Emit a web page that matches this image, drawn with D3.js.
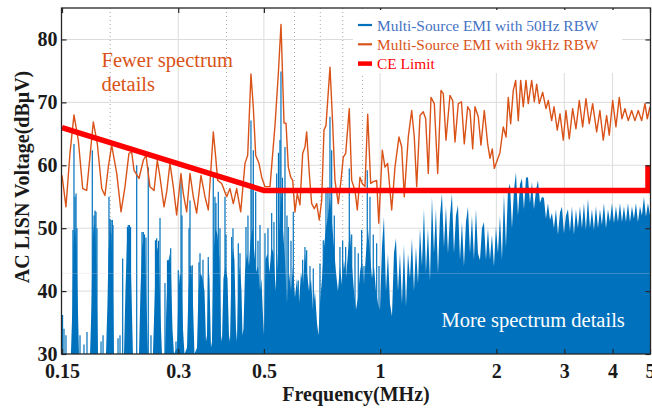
<!DOCTYPE html>
<html><head><meta charset="utf-8">
<script src="https://cdn.jsdelivr.net/npm/d3@7"></script>
<style>body{margin:0;background:#fff}svg{display:block}text{font-family:"Liberation Serif","Times New Roman",serif}</style>
</head><body><svg id="c" width="652" height="411"></svg>
<script>
// ---------- data ----------
const xTickVals = [0.15, 0.3, 0.5, 1, 2, 3, 4, 5];
const xTickLabels = ["0.15", "0.3", "0.5", "1", "2", "3", "4", "5"];
const xMinorVals = [0.2, 0.4, 0.6, 0.7, 0.8, 0.9];
const yTickVals = [30, 40, 50, 60, 70, 80];
const refLineVals = [42.8];

const seriesNames = ["Multi-Source EMI with 50Hz RBW", "Multi-Source EMI with 9kHz RBW", "CE Limit"];

const limitFreq = [0.15, 0.5, 5, 5];
const limitVal = [66, 56, 56, 60];

const orangeFreq = [0.150,0.1536,0.1573,0.1611,0.1653,0.1697,0.1738,0.1808,0.1851,0.1901,0.1938,0.1977,0.2017,0.2079,0.2133,0.2184,0.2236,0.2273,0.2305,0.2374,0.2436,0.2475,0.2534,0.2597,0.2648,0.2691,0.2756,0.2801,0.2856,0.2913,0.2972,
0.3049,0.3092,0.3155,0.3218,0.3282,0.3349,0.3436,0.3519,0.3589,0.3698,0.3751,0.3796,0.3888,0.4005,0.4085,0.4166,0.4251,0.4354,0.4467,0.4540,0.4629,0.4694,0.4761,0.4856,0.4934,0.5033,0.5186,0.5342,0.5449,0.5537,0.5638,
0.5705,0.5784,0.5867,0.5937,0.6019,0.6102,0.6200,0.6302,0.6389,0.6453,0.6555,0.6648,0.6753,0.6851,0.6957,0.7058,0.7155,0.7241,0.7416,0.7536,0.7639,0.7792,0.7919,0.8028,0.8144,0.8320,0.8440,0.8608,0.8728,0.8868,0.8991,0.9137,0.9286,0.9453,0.9601,0.9797,0.9920,
1.0130,1.0293,1.0461,1.0714,1.0927,1.1190,1.1372,1.1550,1.1829,1.2072,1.2260,1.2438,1.2686,1.2936,1.3122,1.3328,1.3543,1.3814,1.4096,1.4376,1.4575,1.4812,1.5165,1.5415,1.5628,1.5939,1.6243,1.6518,1.6857,1.7091,1.7367,1.7606,1.7957,1.8246,1.8612,1.8991,1.9255,1.9521,1.9755,
2.0431,2.0844,2.1189,2.1474,2.1784,2.2125,2.2443,2.2795,2.3122,2.3484,2.3866,2.4195,2.4690,2.5078,2.5438,2.5835,2.6365,2.6890,2.7263,2.7818,2.8209,2.8766,2.9229,2.9807,3.0289,3.0892,3.1525,3.2152,3.2794,3.3462,3.4128,3.4805,3.5518,3.6378,3.7088,3.7836,3.8605,3.9212,4.0017,4.081,4.1623,4.2298,4.3062,4.3919,4.4815,4.570,4.6617,4.757,4.8517,4.9187,5.0];
const orangeVal = [58.4,53.4,61.9,68.0,64.0,56.3,56.0,66.9,63.5,56.3,55.2,59.7,63.2,58.7,52.6,56.6,61.9,62.1,59.2,57.9,60.8,61.6,56.6,56.0,60.8,58.1,53.4,55.8,60.3,56.6,52.1,
58.7,55.5,52.6,58.7,55.0,52.4,58.4,55.0,52.9,65.3,61.3,57.6,57.1,55.0,56.3,53.9,56.3,52.6,60.3,61.6,74.5,69.3,61.6,60.3,58.1,56.6,56.6,66.3,74.5,82.4,66.7,
66.7,59.7,58.1,57.6,52.6,55.5,53.7,61.9,62.9,65.3,58.7,53.9,53.1,53.9,51.3,54.4,65.6,66.3,75.6,66.6,57.6,53.9,57.6,61.3,61.9,69.0,57.6,56.0,52.9,58.1,57.1,56.6,68.1,57.1,57.4,57.6,50.8,
62.4,59.7,60.3,52.9,59.7,64.5,62.9,55.0,64.5,68.7,64.5,56.6,67.9,68.5,67.4,58.7,70.8,69.8,58.7,71.9,71.4,64.0,71.1,70.3,63.7,69.8,70.1,63.4,69.3,68.7,62.6,69.3,67.7,63.2,68.7,63.4,61.1,62.6,59.5,
62.0,66.1,64.5,70.8,66.6,71.9,73.5,67.1,73.5,69.3,73.5,69.8,73.5,70.1,72.9,69.8,71.6,69.0,70.3,67.1,69.3,65.6,68.2,64.0,68.7,64.2,69.0,65.8,70.3,66.1,70.6,66.6,69.8,65.3,68.7,64.0,67.9,64.8,70.3,66.1,70.8,67.4,69.0,67.1,68.7,67.1,68.7,67.1,69.8,67.4,69.3];

const blueFillFreq = [0.1500,0.1582,0.1597,0.1606,0.1616,0.1626,0.1636,0.1645,0.1660,0.1773,0.1789,0.1799,0.1810,0.1826,0.1837,0.1848,0.1859,0.1950,0.1967,0.1979,0.1997,0.2015,0.2033,0.2045,
0.2171,0.2190,0.2210,0.2230,0.2250,0.2270,0.2290,0.2374,0.2395,0.2417,0.2439,0.2461,0.2483,0.2505,0.2580,0.2604,0.2627,0.2651,0.2675,0.2699,0.2723,0.2772,0.2797,0.2822,0.2847,0.2873,0.2899,0.2925,
0.2978,0.3005,0.3031,0.3059,0.3086,0.3114,0.3161,0.3189,0.3218,0.3246,0.3276,0.3305,0.3355,0.3385,0.3426,0.3467,0.3509,0.3540,0.3561,0.3588,0.3614,0.3647,0.3669,0.3702,0.3746,0.3791,0.3837,0.3871,
0.3894,0.3929,0.3976,0.4024,0.4060,0.4085,0.4121,0.4158,0.4195,0.4233,0.4258,0.4297,0.4336,0.4375,0.4401,0.4427,0.4467,0.4520,0.4574,0.4616,0.4671,0.4713,0.4770,0.4827,0.4885,0.4928,0.4973,
0.5003,0.5048,0.5108,0.5170,0.5231,0.5294,0.5342,0.5374,0.5438,0.5503,0.5552,0.5602,0.5670,0.5738,0.5807,0.5877,0.5947,0.6018,0.6090,0.6164,0.6238,0.6312,0.6388,0.6465,0.6543,0.6621,0.6701,0.6781,0.6862,0.6924,
0.6986,0.7070,0.7155,0.7240,0.7327,0.7415,0.7504,0.7594,0.7685,0.7777,0.7870,0.7965,0.8061,0.8157,0.8255,0.8354,0.8455,0.8556,0.8659,0.8763,0.8868,0.8974,0.9082,0.9191,0.9301,0.9413,0.9526,0.9640,0.9756,0.9873,
0.9992,1.0111,1.0232,1.0355,1.0480,1.0606,1.0732,1.0861,1.0991,1.1124,1.1258,1.1392,1.1529,1.1667,1.1808,1.1950,1.2091,1.2236,1.2383,1.2533,1.2684,1.2834,1.2988,1.3143,1.3303,1.3463,1.3623,1.3786,1.3951,1.4120,
1.4291,1.4460,1.4634,1.4809,1.4988,1.5169,1.5349,1.5533,1.5719,1.5909,1.6101,1.6292,1.6488,1.6685,1.6887,1.7090,1.7293,1.7500,1.7710,1.7924,1.8140,1.8355,1.8575,1.8798,1.9025,1.9254,1.9483,1.9717,1.9952,
2.0194,2.0437,2.0680,2.0928,2.1178,2.1434,2.1693,2.1951,2.2214,2.2480,2.2752,2.3026,2.3299,2.3579,2.3862,2.4150,2.4441,2.4731,2.5028,2.5327,2.5633,2.5943,2.6251,2.6566,2.6885,2.7209,2.7537,2.7864,2.8198,2.8536,2.8881,2.9229,2.9576,2.9931,
3.0290,3.0656,3.1025,3.1393,3.1770,3.2149,3.2538,3.2930,3.3322,3.3722,3.4125,3.4538,3.4955,3.5369,3.5794,3.6222,3.6660,3.7101,3.7542,3.7993,3.8452,3.8912,3.9381,3.9849,
4.0327,4.0810,4.1304,4.1801,4.2298,4.2806,4.3321,4.3842,4.4370,4.4896,4.5435,4.5980,4.6535,4.7096,4.7655,4.8227,4.8803,4.9393,5.0];
const blueFillVal = [30,30,38,47,50,49,47,40,30,30,38,47,50,51,46,38,30,30,38,46,50,49,40,30,
30,40,48,50,49,40,30,30,40,47,48,47,38,30,30,38,46,47,45,36,30,30,38,44,46,43,34,30,
31,40,43,42,34,30,31,40,44,44,38,30,31,40,43,42,40,32,33,45,42,31,32,46,50,49,45,33,
32,42,44,42,33,32,44,47,45,34,32,42,44,40,33,34,43,46,44,48,50,47,43,44,40,42,36,
33,45,46,43,47,46,42,40,46,52,56,50,45,38,43,40,44,39,42,38,43,41,46,43,40,42,37,40,35,33,
38,42,47,50,52,55,51,47,43,40,44,41,45,42,46,50,44,40,37,39,43,45,41,46,50,46,42,44,40,38,
37,47,51.8,40,46,38,36,46,48.4,40,46,38,47.5,37.5,46,42,48.4,40,47,41.2,50,44,53.1,43,50,41.7,55,46,53,42.8,
52,55.5,47,53.5,46,52,55.5,46,52,53.7,45,51,43.9,51,53.4,46,52,45,53,46,44.9,50,51,45,50,45,49,43.9,50.3,
46,52,45,55.5,47,56,57.1,50,56,58.9,52,57,57.9,53,58,58.1,54,57.4,53,56,57.6,54,55,54.8,51.5,54,51.3,52.4,50,53,49,52.5,53.4,49.2,
52,53,49.5,53.5,49,53,50,53.5,50,54,49.7,54.7,50,53,49.7,53.5,50,53,50.5,54,50,53,51,54,
50.8,53.5,51,54,51,53.5,51,54,51,53.5,51.5,54,51,53.5,52,55,51.8,54,52];

const blueSpikeFreq = [0.1505,0.1518,0.1536,0.1601,0.1611,0.1621,0.1631,0.1640,0.1670,0.1710,0.1741,0.1797,0.1816,0.1826,0.1837,0.1848,0.1893,0.1916,0.1985,0.1997,0.2009,0.2025,0.2033,0.2095,0.2120,0.2154,
0.2216,0.2227,0.2243,0.2257,0.2342,0.2417,0.2436,0.2453,0.2475,0.2509,0.2550,0.2619,0.2638,0.2667,0.2691,0.2772,0.2814,0.2830,0.2856,0.2868,0.2960,0.3001,
0.3050,0.3068,0.3199,0.3218,0.3262,0.3395,0.3416,0.3477,0.3588,0.3697,0.3735,0.3757,0.3810,0.3848,0.3965,0.3988,0.4126,0.4158,0.4292,0.4336,0.4493,0.4547,0.4629,0.4657,0.4694,0.4761,0.4827,0.4885,
0.5033,0.5123,0.5238,0.5310,0.5396,0.5454,0.5503,0.5536,0.5586,0.5670,0.5738,0.5783,0.5877,0.5958,0.6138,0.6301,0.6388,0.6453,0.6582,0.6713,0.6986,0.7125,0.7240,0.7327,0.7415,0.7490,0.7608,
0.7870,0.7998,0.8142,0.8320,0.8440,0.8608,0.8778,0.8958,0.9082,0.9262,0.9413,0.9600,0.9797,0.9933];
const blueSpikeVal = [36.2,34,33,49.7,63.4,55,55.5,50,33,31.5,33.5,62.4,52,52.8,52.6,50,32,33,55.0,51.5,51.3,51.3,50.5,32.5,33,45.2,
50.2,50.5,50.5,50.2,60.0,49.4,49.4,49,48.5,59.7,33,48.1,48.4,48,51.6,41.3,44.9,44.9,44.1,46.8,32,43.3,
58.4,52,50,54.4,44.1,44.6,46,45,45.4,58.1,55,54,55.8,50,55.0,49,48.6,50,47.6,46,50.2,52,67.1,57,62.4,55.8,48,50.5,
49.2,50,52.4,51,58.7,62,64,74.9,58,62.9,52,50.2,48,52.6,41.7,45,47.0,46.5,44,43.6,44.4,48.1,56.0,56.5,67.7,62.4,52,
47.0,48,47,59.5,49,47,46.0,49.7,44,59.2,55,49,47.6,44];

// ---------- layout ----------
const BLUE = "#0072BD", ORANGE = "#D95319", RED = "#FF0000";
const x = d3.scaleLog().domain([0.15, 5]).range([62, 650]);
const y = d3.scaleLinear().domain([30, 85]).range([354, 8]);
const svg = d3.select("#c");
const L = 61.5, R = 650.5, T = 8, B = 354;

svg.append("defs").append("clipPath").attr("id", "clip")
  .append("rect").attr("x", L).attr("y", T).attr("width", R - L).attr("height", B - T);

// grid
const grid = svg.append("g");
grid.selectAll(".gy").data(yTickVals.slice(1)).enter().append("line")
  .attr("x1", L).attr("x2", R).attr("y1", d => y(d)).attr("y2", d => y(d))
  .attr("stroke", "#dcdcdc").attr("stroke-width", 1);
grid.selectAll(".gx").data(xTickVals.slice(1, -1)).enter().append("line")
  .attr("x1", d => x(d)).attr("x2", d => x(d)).attr("y1", T).attr("y2", B)
  .attr("stroke", "#dcdcdc").attr("stroke-width", 1);
grid.selectAll(".gm").data(xMinorVals).enter().append("line")
  .attr("x1", d => x(d)).attr("x2", d => x(d)).attr("y1", T).attr("y2", B)
  .attr("stroke", "#a8a8a8").attr("stroke-width", 1).attr("stroke-dasharray", "1,3");

const plot = svg.append("g").attr("clip-path", "url(#clip)");
const idxFill = d3.range(blueFillFreq.length);
plot.append("path").datum(idxFill)
  .attr("d", d3.area().x(i => x(blueFillFreq[i])).y0(y(30)).y1(i => y(blueFillVal[i])))
  .attr("fill", BLUE);
plot.selectAll(".spk").data(d3.range(blueSpikeFreq.length)).enter().append("line")
  .attr("x1", i => x(blueSpikeFreq[i])).attr("x2", i => x(blueSpikeFreq[i]))
  .attr("y1", y(30)).attr("y2", i => y(blueSpikeVal[i]))
  .attr("stroke", BLUE).attr("stroke-width", 1.2);

plot.append("path").datum(d3.range(orangeFreq.length))
  .attr("d", d3.line().x(i => x(orangeFreq[i])).y(i => y(orangeVal[i])))
  .attr("fill", "none").attr("stroke", ORANGE).attr("stroke-width", 1.4).attr("stroke-linejoin", "round");

// faint overlay line seen across the figure
plot.selectAll(".ref").data(refLineVals).enter().append("line")
  .attr("x1", L).attr("x2", R).attr("y1", d => y(d)).attr("y2", d => y(d))
  .attr("stroke", "#d8d8d8").attr("stroke-opacity", 0.28).attr("stroke-width", 1);

svg.append("path").datum(d3.range(limitFreq.length))
  .attr("d", d3.line().x(i => Math.min(x(limitFreq[i]), 648)).y(i => y(limitVal[i])))
  .attr("fill", "none").attr("stroke", RED).attr("stroke-width", 5.5).attr("stroke-linejoin", "miter");

// axes
const fontTick = "bold 20px 'Liberation Serif', 'Times New Roman', serif";
const ax = svg.append("g").attr("transform", `translate(0,${B})`)
  .call(d3.axisBottom(x).tickValues(xTickVals).tickFormat((d, i) => xTickLabels[i]).tickSize(-5).tickPadding(10));
const ay = svg.append("g").attr("transform", `translate(${L},0)`)
  .call(d3.axisLeft(y).tickValues(yTickVals).tickFormat(d3.format("d")).tickSize(-5).tickPadding(4));
const at = svg.append("g").attr("transform", `translate(0,${T})`)
  .call(d3.axisTop(x).tickValues(xTickVals).tickFormat("").tickSize(-5));
const ar = svg.append("g").attr("transform", `translate(${R},0)`)
  .call(d3.axisRight(y).tickValues(yTickVals).tickFormat("").tickSize(-5));
[ax, ay, at, ar].forEach(a => {
  a.select(".domain").remove();
  a.selectAll(".tick line").attr("stroke", "#262626").attr("stroke-width", 1.2);
  a.selectAll("text").style("font", fontTick).attr("fill", "#1a1a1a");
});

// frame
svg.append("rect").attr("x", L).attr("y", T).attr("width", R - L).attr("height", B - T)
  .attr("fill", "none").attr("stroke", "#262626").attr("stroke-width", 1.3);

// axis titles
svg.append("text").attr("x", 356).attr("y", 401).attr("text-anchor", "middle")
  .style("font", fontTick).attr("fill", "#1a1a1a").text("Frequency(MHz)");
svg.append("text").attr("transform", "translate(29,177) rotate(-90)").attr("text-anchor", "middle")
  .style("font", fontTick).attr("fill", "#1a1a1a").text("AC LISN Voltage(dBμV)");

// legend
const lg = svg.append("g");
lg.append("rect").attr("x", 353).attr("y", 10).attr("width", 269).attr("height", 63).attr("fill", "#fff");
const legColors = [BLUE, ORANGE, RED];
const legText = ["#4472C4", ORANGE, RED];
const legW = [2.2, 2.2, 4.5];
seriesNames.forEach((n, i) => {
  const yy = 25 + i * 19.3;
  lg.append("line").attr("x1", 358).attr("x2", 372).attr("y1", yy).attr("y2", yy)
    .attr("stroke", legColors[i]).attr("stroke-width", legW[i]);
  lg.append("text").attr("x", 377).attr("y", yy + 5.5).attr("fill", legText[i])
    .style("font", "15.4px 'Liberation Serif', 'Times New Roman', serif").text(n);
});

// annotations
const annFont = "20.5px 'Liberation Serif', 'Times New Roman', serif";
svg.append("text").attr("x", 101.5).attr("y", 67).attr("fill", ORANGE).style("font", annFont).text("Fewer spectrum");
svg.append("text").attr("x", 101.5).attr("y", 91).attr("fill", ORANGE).style("font", annFont).text("details");
svg.append("text").attr("x", 441.5).attr("y", 327).attr("fill", "#fff").style("font", annFont).text("More spectrum details");
</script></body></html>
